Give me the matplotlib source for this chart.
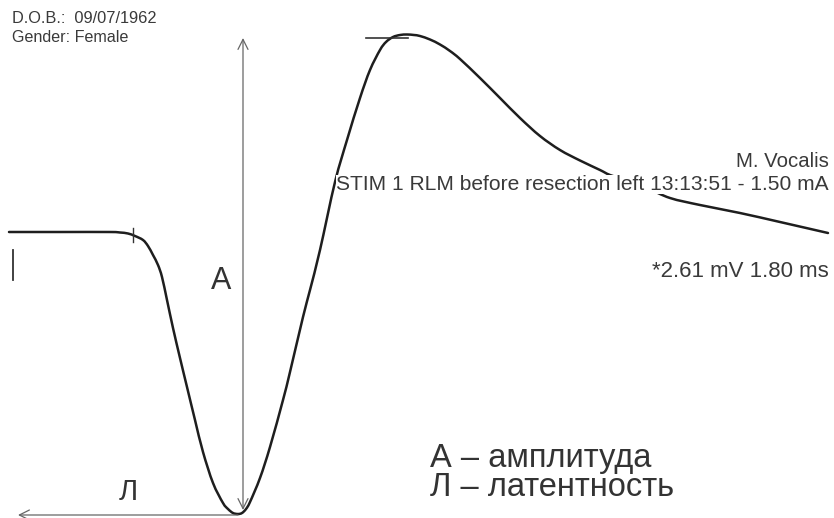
import matplotlib
matplotlib.use("Agg")
import matplotlib.pyplot as plt
import numpy as np
from matplotlib.path import Path
from matplotlib.patches import PathPatch

plt.rcParams['font.family'] = ['Liberation Sans', 'DejaVu Sans']

# waveform samples (x position, y position; y grows downward)
wave_x = [9, 60, 110, 120, 128, 135, 143, 148, 153, 158, 162, 167, 173, 180, 187, 195, 203, 213,
          223, 228, 233, 238, 242, 246, 250, 260, 270, 283, 290, 303, 310, 320, 335, 347, 360,
          370, 380, 386, 393, 400, 407, 414, 420, 430, 440, 450, 460, 480, 500, 520, 540, 560, 580,
          600, 610, 628, 647, 670, 700, 740, 780, 828]
wave_y = [232, 232, 232, 232.5, 233.5, 236, 240, 246, 255, 265, 277, 300, 328, 358, 387, 420, 452, 483,
          503, 509, 513, 514, 513, 509, 502, 478, 447, 400, 372, 317, 290, 250, 182, 140, 98,
          70, 50, 42, 37, 35, 34.5, 35, 36, 39.5, 44.5, 51, 59, 78, 98, 118, 136, 150, 160.5,
          170, 175, 181, 188, 198, 205, 213, 222, 233]

patient_info = ["D.O.B.:  09/07/1962", "Gender: Female"]
muscle = "M. Vocalis"
stim_info = "STIM 1 RLM before resection left 13:13:51 - 1.50 mA"
measure = "*2.61 mV 1.80 ms"
legend_lines = ["А – амплитуда", "Л – латентность"]


def smooth_path(x, y):
    # Catmull-Rom through the read samples, drawn as cubic bezier segments
    p = np.column_stack([x, y]).astype(float)
    verts = [p[0]]
    codes = [Path.MOVETO]
    for i in range(len(p) - 1):
        p0 = p[i - 1] if i > 0 else p[i]
        p3 = p[i + 2] if i + 2 < len(p) else p[i + 1]
        c1 = p[i] + (p[i + 1] - p0) / 6
        c2 = p[i + 1] - (p3 - p[i]) / 6
        verts += [c1, c2, p[i + 1]]
        codes += [Path.CURVE4] * 3
    return Path(verts, codes)


fig = plt.figure(figsize=(8.34, 5.18), dpi=100)
ax = fig.add_axes([0, 0, 1, 1])
ax.set_xlim(0, 834)
ax.set_ylim(518, 0)
ax.axis('off')

ax.add_patch(PathPatch(smooth_path(wave_x, wave_y), facecolor='none', edgecolor='#1e1e1e',
                       lw=1.8, capstyle='round', joinstyle='round', zorder=2))

# markers on the trace
ax.plot([13, 13], [250, 280], color='#333333', lw=1.3)
ax.plot([133, 133], [228, 242], color='#333333', lw=1.0)
ax.plot([366, 408], [38, 38], color='#333333', lw=1.2)

# amplitude and latency arrows
arrow_kw = dict(arrowstyle='<->', color='#666666', lw=0.9, mutation_scale=18, shrinkA=0, shrinkB=0)
ax.annotate('', xy=(243, 38), xytext=(243, 510), arrowprops=arrow_kw)
ax.annotate('', xy=(18, 515), xytext=(238, 515),
            arrowprops=dict(arrowstyle='->', color='#666666', lw=0.9, mutation_scale=18,
                            shrinkA=0, shrinkB=0))
ax.text(221, 289, "А", fontsize=22, color='#333333', ha='center', va='baseline')
ax.text(128, 500, "Л", fontsize=21, color='#333333', ha='center', va='baseline')

txt_col = '#3a3a3a'
ax.text(12, 23, patient_info[0], fontsize=11.8, color=txt_col, va='baseline')
ax.text(12, 42, patient_info[1], fontsize=11.6, color=txt_col, va='baseline')

ax.text(829, 167, muscle, fontsize=14.7, color=txt_col, ha='right', va='baseline')
ax.text(829, 190, stim_info, fontsize=15.1, color=txt_col, ha='right', va='baseline', zorder=3,
        bbox=dict(facecolor='white', edgecolor='none', pad=0.3))
ax.text(829, 277, measure, fontsize=16, color=txt_col, ha='right', va='baseline')

ax.text(430, 467, legend_lines[0], fontsize=23.5, color='#333333', va='baseline')
ax.text(430, 496, legend_lines[1], fontsize=23.5, color='#333333', va='baseline')

fig.savefig("out.png", dpi=100)
